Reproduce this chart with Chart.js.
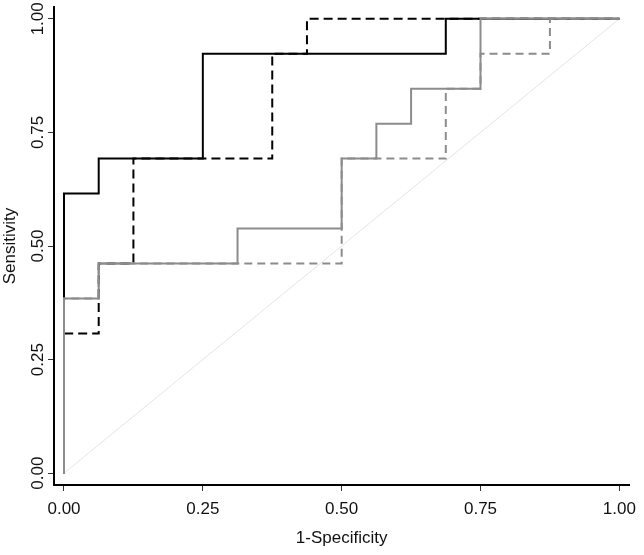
<!DOCTYPE html>
<html>
<head>
<meta charset="utf-8">
<style>
  html, body { margin: 0; padding: 0; background: #fff; }
  #wrap { width: 644px; height: 555px; }
</style>
<script src="https://cdn.jsdelivr.net/npm/chart.js@4/dist/chart.umd.min.js"></script>
</head>
<body>
<div id="wrap"><canvas id="roc" width="644" height="555"></canvas></div>
<script>
// ROC operating points (1-specificity, sensitivity), steps drawn by the library
const blackSolidX = [0, 0, 0.0625, 0.25, 0.6875, 1];
const blackSolidY = [0, 0.6154, 0.6923, 0.9231, 1, 1];

const blackDashX = [0, 0, 0.0625, 0.125, 0.375, 0.4375, 1];
const blackDashY = [0, 0.3077, 0.4615, 0.6923, 0.9231, 1, 1];

const graySolidX = [0, 0, 0.0625, 0.3125, 0.5, 0.5625, 0.625, 0.75, 1];
const graySolidY = [0, 0.3846, 0.4615, 0.5385, 0.6923, 0.7692, 0.8462, 1, 1];

const grayDashX = [0, 0, 0.0625, 0.5, 0.6875, 0.75, 0.875, 1];
const grayDashY = [0, 0.3846, 0.4615, 0.6923, 0.8462, 0.9231, 1, 1];

const refX = [0, 1];
const refY = [0, 1];

const tickValues = [0, 0.25, 0.5, 0.75, 1];
const tickLabels = ['0.00', '0.25', '0.50', '0.75', '1.00'];

function pts(xs, ys) {
  return xs.map((x, i) => ({ x: x, y: ys[i] }));
}

const fontFam = '"Liberation Sans", Arial, sans-serif';

// y tick labels are rotated in the original, so draw them here
const rotatedYLabels = {
  id: 'rotatedYLabels',
  afterDraw(chart) {
    const ctx = chart.ctx;
    const y = chart.scales.y;
    ctx.save();
    ctx.fillStyle = '#111';
    ctx.font = '17px ' + fontFam;
    ctx.textAlign = 'center';
    ctx.textBaseline = 'alphabetic';
    tickValues.forEach((v, i) => {
      const py = y.getPixelForValue(v);
      ctx.save();
      ctx.translate(43, py);
      ctx.rotate(-Math.PI / 2);
      ctx.fillText(tickLabels[i], 0, 0);
      ctx.restore();
    });
    ctx.restore();
  }
};

const common = { fill: false, pointRadius: 0, pointHoverRadius: 0, stepped: 'before', tension: 0 };

new Chart(document.getElementById('roc').getContext('2d'), {
  type: 'line',
  data: {
    datasets: [
      Object.assign({ label: 'gray solid', data: pts(graySolidX, graySolidY),
        borderColor: '#8c8c8c', borderWidth: 2 }, common),
      Object.assign({ label: 'gray dashed', data: pts(grayDashX, grayDashY),
        borderColor: '#8c8c8c', borderWidth: 2, borderDash: [8, 5] }, common),
      Object.assign({ label: 'black solid', data: pts(blackSolidX, blackSolidY),
        borderColor: '#000', borderWidth: 2 }, common),
      Object.assign({ label: 'black dashed', data: pts(blackDashX, blackDashY),
        borderColor: '#000', borderWidth: 2, borderDash: [9, 5] }, common),
      { label: 'reference', data: pts(refX, refY), borderColor: '#e4e4e4', borderWidth: 1,
        pointRadius: 0, fill: false }
    ]
  },
  options: {
    responsive: false,
    animation: false,
    layout: { padding: { top: 7, right: 7, left: 0, bottom: 0 } },
    plugins: { legend: { display: false }, tooltip: { enabled: false } },
    scales: {
      x: {
        type: 'linear',
        min: -0.018,
        max: 1.018,
        afterBuildTicks: (s) => { s.ticks = tickValues.map(v => ({ value: v })); },
        afterFit: (s) => { s.height = 70; },
        border: { display: true, color: '#000', width: 2 },
        grid: { display: true, drawOnChartArea: false, drawTicks: true, tickLength: 6,
          tickColor: '#333', tickWidth: 1 },
        ticks: {
          color: '#111',
          font: { family: fontFam, size: 17 },
          padding: 8,
          maxRotation: 0,
          callback: (v) => tickLabels[tickValues.indexOf(v)]
        },
        title: { display: true, text: '1-Specificity', color: '#111',
          font: { family: fontFam, size: 17 }, padding: { top: 0, bottom: 6 } }
      },
      y: {
        type: 'linear',
        min: -0.026,
        max: 1.026,
        afterBuildTicks: (s) => { s.ticks = tickValues.map(v => ({ value: v })); },
        afterFit: (s) => { s.width = 54; },
        border: { display: true, color: '#000', width: 2 },
        grid: { display: true, drawOnChartArea: false, drawTicks: true, tickLength: 6,
          tickColor: '#333', tickWidth: 1 },
        ticks: { display: false },
        title: { display: true, text: 'Sensitivity', color: '#111',
          font: { family: fontFam, size: 17 }, padding: { top: 0, bottom: 0 } }
      }
    }
  },
  plugins: [rotatedYLabels]
});
</script>
</body>
</html>
